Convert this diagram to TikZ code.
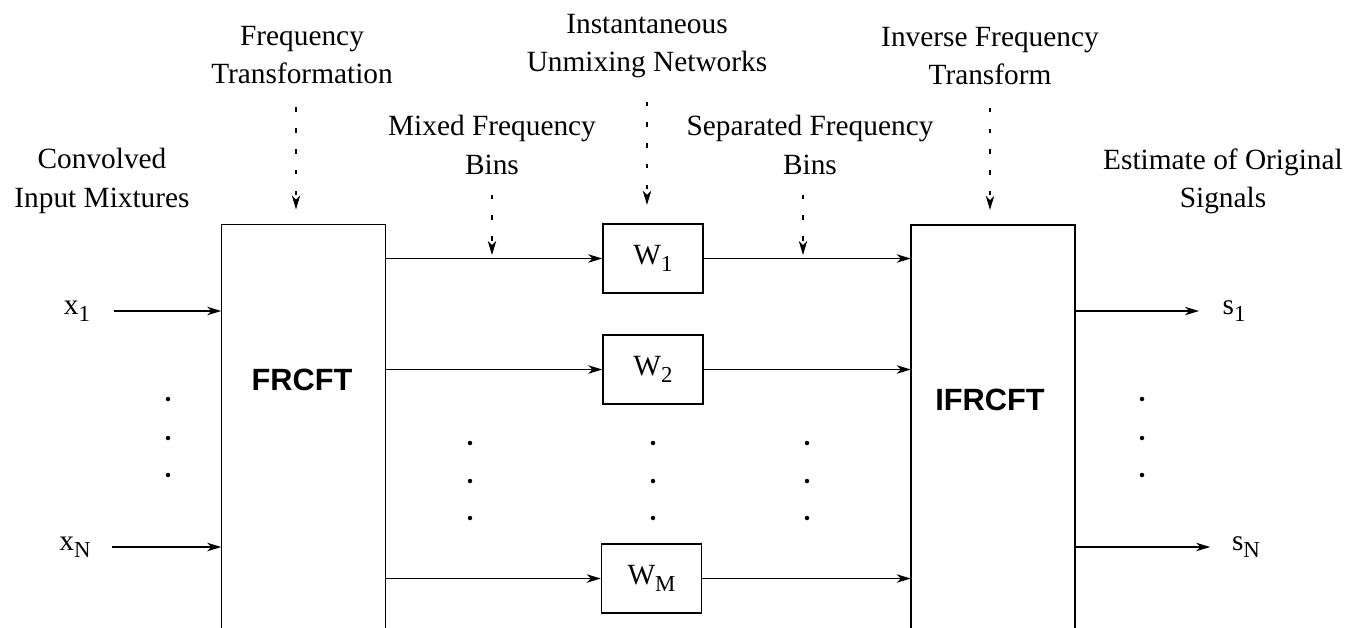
\documentclass[tikz,border=0pt]{standalone}
\usepackage{fontspec}
\setmainfont{Liberation Serif}
\newfontfamily\blocksans{Liberation Sans}
\usetikzlibrary{arrows.meta}

% lowered index for signal and filter names
\newcommand{\lowidx}[1]{\raisebox{-0.55ex}{\fontsize{13}{14}\selectfont #1}}

\begin{document}
\begin{tikzpicture}[x=0.02cm,y=-0.02cm,line width=0.85pt,
  >={Stealth[length=8pt,width=4.8pt,inset=2.4pt]},
  txt/.style={align=center,inner sep=0pt,font=\fontsize{16.7}{21.8}\selectfont},
  sig/.style={inner sep=0pt,font=\fontsize{16.7}{20}\selectfont},
  bigbox/.style={minimum width=3.26cm,minimum height=8.04cm,inner sep=0pt},
  boxname/.style={inner sep=0pt,font=\blocksans\bfseries\fontsize{17.5}{20}\selectfont},
  wbox/.style={draw,minimum width=2cm,minimum height=1.38cm,inner sep=0pt,font=\fontsize{16.7}{20}\selectfont},
  guide/.style={->,line width=0.6pt,dash pattern=on 2.4pt off 9.5pt}]
\path[use as bounding box] (0,0) rectangle (1360,627);

% transform blocks, open at the bottom
\node[bigbox] (frc) at (303.5,426) {};
\draw (frc.south west) |- (frc.north east) -- (frc.south east);
\node[boxname] (frct) at (302,380) {FRCFT};
\node[bigbox] (ifr) at (993,426.5) {};
\draw (ifr.south west) |- (ifr.north east) -- (ifr.south east);
\node[boxname] (ifrt) at (990,400) {IFRCFT};

% unmixing networks per bin
\node[wbox] (w1) at (653,258.5) {W\lowidx{1}};
\node[wbox] (w2) at (653,369.5) {W\lowidx{2}};
\node[wbox] (wm) at (651.5,578.5) {W\lowidx{M}};
\foreach \w in {w1,w2,wm} {
  \draw[->] (\w -| frc.east) -- (\w.west);
  \draw[->] (\w.east) -- (\w -| ifr.west);
}

% inputs and outputs
\node[sig] (x1) at (77,311) {x\lowidx{1}};
\node[sig] (xn) at (75,547) {x\lowidx{N}};
\draw[->,shorten <=13pt] (x1.east) -- (x1 -| frc.west);
\draw[->,shorten <=12pt] (xn.east) -- (xn -| frc.west);
\node[sig] (s1) at (1234,311) {s\lowidx{1}};
\node[sig] (sn) at (1246,547) {s\lowidx{N}};
\draw[->,shorten >=13pt] (s1 -| ifr.east) -- (s1.west);
\draw[->,shorten >=12pt] (sn -| ifr.east) -- (sn.west);

% dots
\foreach \y in {399,438,475} {
  \fill (168,\y) circle (0.045cm);
  \fill (1142,\y) circle (0.045cm);
}
\foreach \x in {470,653,807}
  \foreach \y in {443,481,518}
    \fill (\x,\y) circle (0.045cm);

% captions
\node[txt] (cim) at (102,181) {Convolved\\Input Mixtures};
\node[txt] (ft) at (302,55) {Frequency\\Transformation};
\node[txt] (mfb) at (492,145) {Mixed Frequency\\Bins};
\node[txt] (iun) at (647,46) {Instantaneous\\Unmixing Networks};
\node[txt] (sfb) at (810,145) {Separated Frequency\\Bins};
\node[txt] (ift) at (990,56) {Inverse Frequency\\Transform};
\node[txt] (eos) at (1223,181) {Estimate of Original\\Signals};

\draw[guide,shorten <=13pt,shorten >=8.5pt] ([xshift=-0.12cm]ft.south) -- ([xshift=-0.12cm]ft.south |- frc.north);
\draw[guide,shorten <=11pt,shorten >=2pt] (mfb) -- (mfb |- w1);
\draw[guide,shorten <=13pt,shorten >=10.5pt] (iun) -- (iun |- w1.north);
\draw[guide,shorten <=11pt,shorten >=2pt] ([xshift=-0.14cm]sfb.south) -- ([xshift=-0.14cm]sfb.south |- w1);
\draw[guide,shorten <=12.5pt,shorten >=8.5pt] (ift) -- (ift |- ifr.north);
\end{tikzpicture}
\end{document}
